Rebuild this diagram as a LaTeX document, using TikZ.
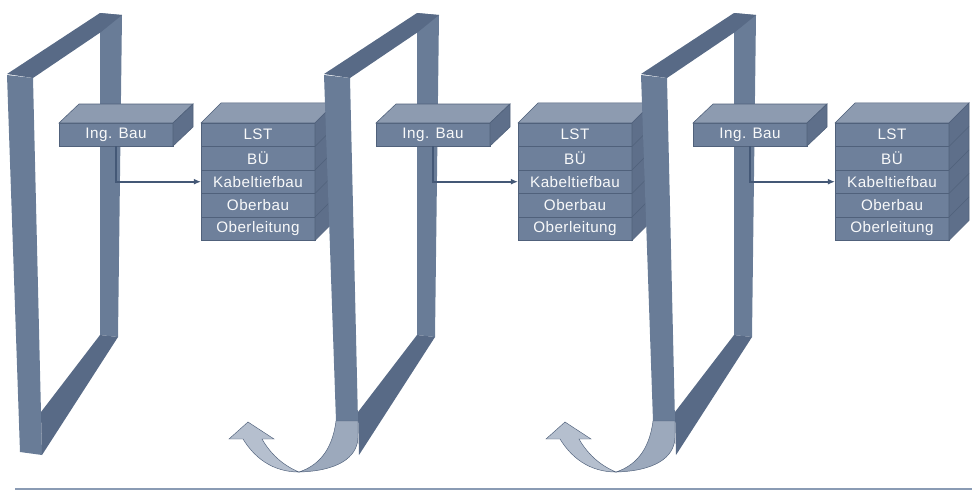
\documentclass[tikz,border=0pt]{standalone}
\usepackage{fontspec}
\setmainfont{Liberation Sans}[LetterSpace=3]
\usetikzlibrary{arrows.meta,positioning}

\definecolor{postface}{RGB}{105,124,151}
\definecolor{postdark}{RGB}{88,106,134}
\definecolor{boxface}{RGB}{110,128,155}
\definecolor{boxtop}{RGB}{141,155,176}
\definecolor{boxside}{RGB}{94,111,138}
\definecolor{boxedge}{RGB}{80,97,123}
\definecolor{curlback}{RGB}{156,169,188}
\definecolor{curlfront}{RGB}{181,191,206}
\definecolor{feedcol}{RGB}{68,88,118}
\definecolor{rulecol}{RGB}{138,155,180}

\tikzset{
  post/.style={fill=postface},
  bar/.style={fill=postdark},
  layer/.style={draw=boxedge, line width=0.5pt, fill=boxface, text=white!95!boxface,
    font=\fontsize{13}{14}\selectfont, minimum width=3.42cm,
    minimum height=0.705cm, inner sep=0pt, outer sep=0pt},
  topface/.style={draw=boxedge, line width=0.5pt, fill=boxtop},
  sideface/.style={draw=boxedge, line width=0.5pt, fill=boxside},
  curl/.style={draw=boxedge, line width=0.4pt},
  feed/.style={draw=feedcol, line width=1.6pt, -{Latex[length=6pt,width=5pt]}},
}

\begin{document}
\begin{tikzpicture}[x=0.03cm,y=-0.03cm]
  \useasboundingbox (0,0) rectangle (972,491);
  \foreach \i/\dx/\bx/\by/\cx/\cy in {1/0/42/455/20/452, 2/317/41/421/19/421, 3/634/41/421/19/421}{
    \begin{scope}[shift={(\dx,0)}]
      % frame
      \fill[post] (100,13) -- (122,15) -- (118,337) -- (100,335) -- cycle;
      \fill[post] (7,75) -- (33,78) -- (\bx,\by) -- (\cx,\cy) -- cycle;
      \fill[bar] (7,74) -- (100,13) -- (122,15) -- (101,32) -- (33,78) -- cycle;
      \fill[bar] (100,335) -- (118,337) -- (42,455) -- (41,412) -- cycle;
      % turn-over arrow
      \ifnum\i>1
        \filldraw[curl, fill=curlback] (19,421) -- (41,421) -- (41,438)
          .. controls (40,458) and (20,471) .. (-18,472)
          .. controls (0,466) and (15,452) .. (19,421) -- cycle;
        \filldraw[curl, fill=curlfront] (-18,472)
          .. controls (-45,472) and (-63,457) .. (-74,439)
          -- (-88,439) -- (-69,422) -- (-43,439) -- (-55,439)
          .. controls (-47,453) and (-35,465) .. (-18,472) -- cycle;
      \fi
      % Ing. Bau
      \node[layer, minimum height=0.69cm] (ing\i) at (116,134.5) {Ing. Bau};
      \filldraw[topface] (ing\i.north west) -- ++(20,-19)
        -- ([shift={(20,-19)}]ing\i.north east) -- (ing\i.north east) -- cycle;
      \filldraw[sideface] (ing\i.north east) -- ++(20,-19)
        -- ([shift={(20,-19)}]ing\i.south east) -- (ing\i.south east) -- cycle;
      % stack
      \node[layer] (lst\i) at (258,134.7) {LST};
      \node[layer, below=0pt of lst\i] (bue\i) {BÜ};
      \node[layer, below=0pt of bue\i] (kab\i) {Kabeltiefbau};
      \node[layer, below=0pt of kab\i] (obb\i) {Oberbau};
      \node[layer, below=0pt of obb\i] (obl\i) {Oberleitung};
      \filldraw[topface] (lst\i.north west) -- ++(20,-20)
        -- ([shift={(20,-20)}]lst\i.north east) -- (lst\i.north east) -- cycle;
      \filldraw[sideface] (lst\i.north east) -- ++(20,-20)
        -- ([shift={(20,-20)}]obl\i.south east) -- (obl\i.south east) -- cycle;
      \foreach \r in {lst,bue,kab,obb}
        \draw[boxedge, line width=0.5pt] (\r\i.south east) -- ++(20,-20);
      \draw[feed] (ing\i.south) |- (kab\i.west);
    \end{scope}
  }
  \draw[rulecol, line width=1.2pt] (15,489) -- (972,489);
\end{tikzpicture}
\end{document}
